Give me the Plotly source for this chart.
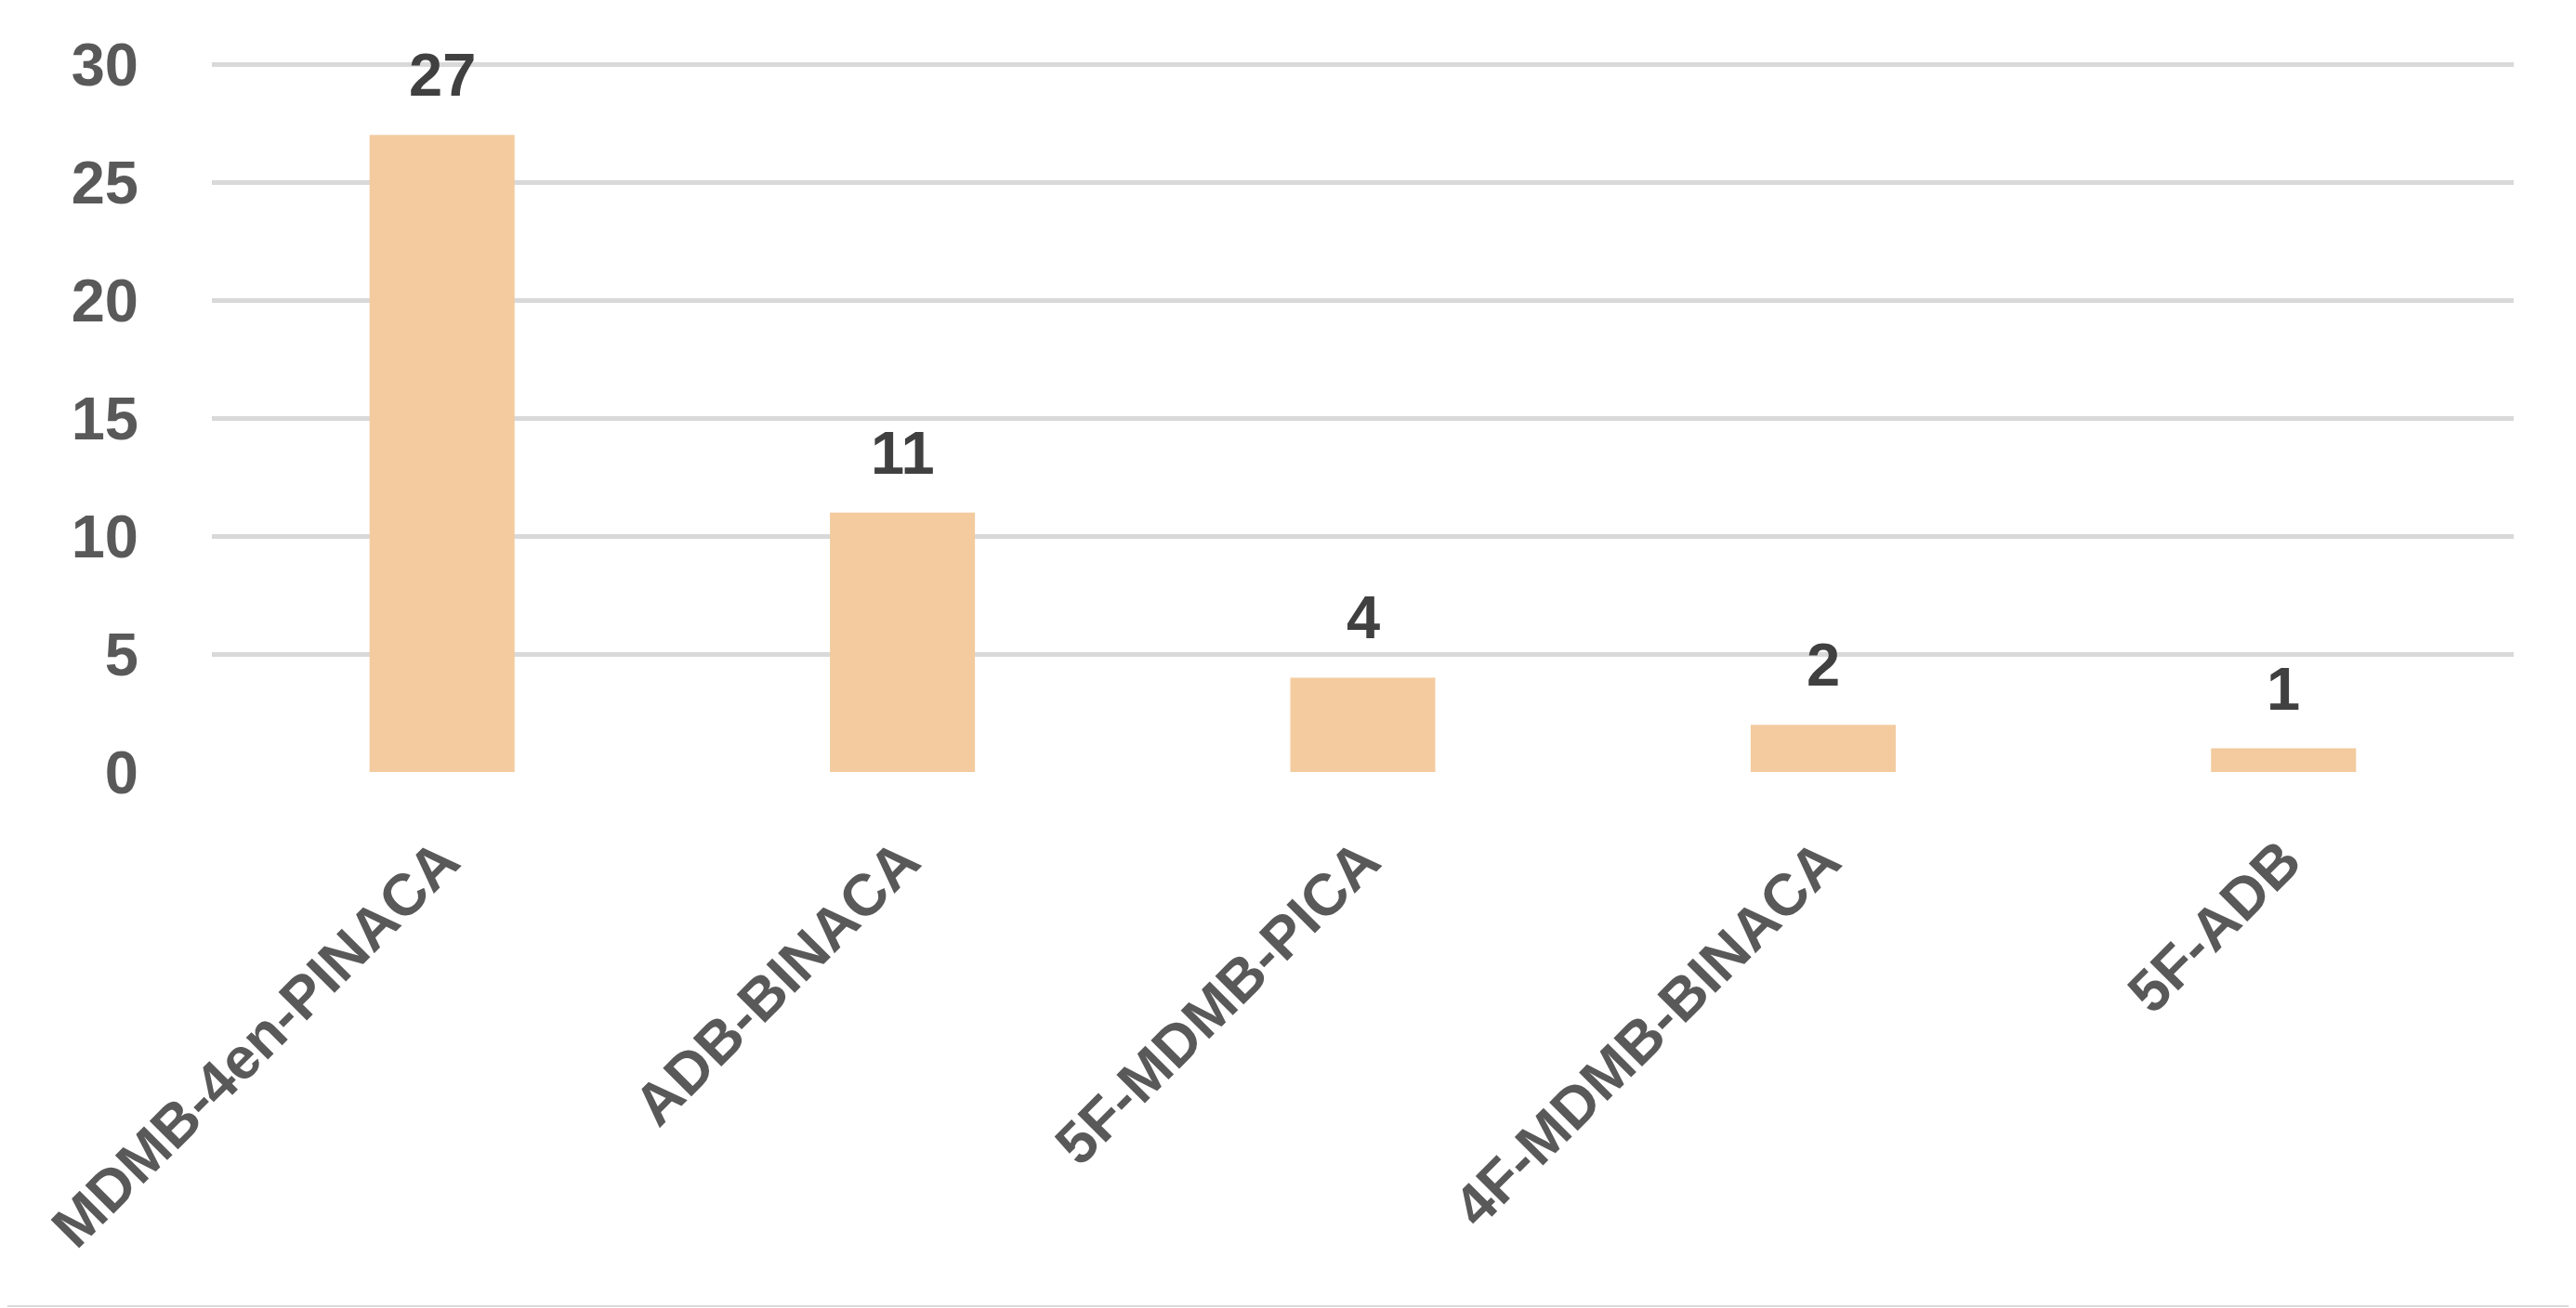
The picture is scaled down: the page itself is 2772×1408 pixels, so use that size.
import plotly.graph_objects as go

categories = ["MDMB-4en-PINACA", "ADB-BINACA", "5F-MDMB-PICA", "4F-MDMB-BINACA", "5F-ADB"]
values = [27, 11, 4, 2, 1]
y_ticks = [0, 5, 10, 15, 20, 25, 30]

FONT = "Liberation Sans, Arial, sans-serif"

# page offset of the html body (~8px)
OFF = 8
PX_PER_UNIT = 762 / 30
Y_TOP = 30.2
plot_h = Y_TOP * PX_PER_UNIT
top = 69 - OFF - (Y_TOP - 30) * PX_PER_UNIT
left = 228 - OFF
plot_w = 2477
W, H = 2772, 1408
bottom = H - top - plot_h
right = W - left - plot_w

fig = go.Figure()
fig.add_trace(go.Bar(
    x=categories, y=values,
    marker=dict(color="#F3CB9F", line=dict(width=0)),
    hoverinfo="x+y",
))

for c, v in zip(categories, values):
    fig.add_annotation(
        x=c, y=v, text=str(v), showarrow=False,
        xref="x", yref="y", yanchor="bottom", yshift=26,
        font=dict(family=FONT, size=65, color="#404040", weight="bold"),
    )

fig.update_layout(
    width=W, height=H,
    margin=dict(l=left, r=right, t=top, b=bottom, autoexpand=False),
    paper_bgcolor="white", plot_bgcolor="white",
    bargap=0.685,
    showlegend=False,
    font=dict(family=FONT),
)
fig.update_yaxes(
    range=[0, Y_TOP], tickvals=y_ticks,
    showgrid=True, gridcolor="#D9D9D9", gridwidth=5,
    zeroline=False, showline=False,
    tickfont=dict(family=FONT, size=65, color="#595959", weight="bold"),
    ticklabelstandoff=78,
)
fig.update_xaxes(
    showgrid=False, zeroline=False, showline=False,
    tickangle=-45,
    tickfont=dict(family=FONT, size=63, color="#595959", weight="bold"),
    ticklabelstandoff=45,
)
line_y = -((1406 - OFF) - (top + plot_h)) / plot_h
fig.add_shape(type="line", xref="paper", yref="paper",
              x0=-1, x1=2, y0=line_y, y1=line_y,
              line=dict(color="#D9D9D9", width=2))

fig.write_html("out.html")
